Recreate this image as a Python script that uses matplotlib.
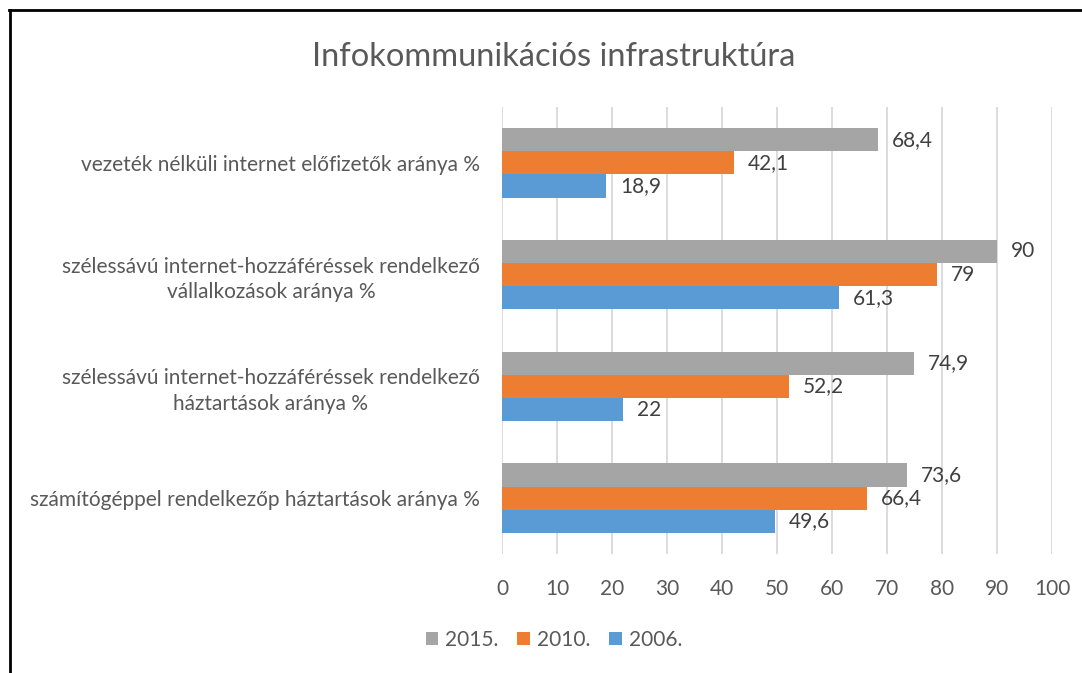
import numpy as np
import matplotlib.pyplot as plt
from matplotlib.patches import Patch
from matplotlib.lines import Line2D

# Adatok
categories = [
    "vezeték nélküli internet előfizetők aránya %",
    "szélessávú internet-hozzáféréssek rendelkező\nvállalkozások aránya %",
    "szélessávú internet-hozzáféréssek rendelkező\nháztartások aránya %",
    "számítógéppel rendelkezőp háztartások aránya %",
]
series_names = ["2015.", "2010.", "2006."]
values_2015 = [68.4, 90, 74.9, 73.6]
values_2010 = [42.1, 79, 52.2, 66.4]
values_2006 = [18.9, 61.3, 22, 49.6]
value_labels_2015 = ["68,4", "90", "74,9", "73,6"]
value_labels_2010 = ["42,1", "79", "52,2", "66,4"]
value_labels_2006 = ["18,9", "61,3", "22", "49,6"]
xticks = [0, 10, 20, 30, 40, 50, 60, 70, 80, 90, 100]

colors = ["#A5A5A5", "#ED7D31", "#5B9BD5"]
text_color = "#595959"

plt.rcParams['font.family'] = ['Lato', 'DejaVu Sans']

fig = plt.figure(figsize=(10.82, 6.73), dpi=100)
W, H = 1082, 673
ax = fig.add_axes([502 / W, 1 - 554 / H, 550 / W, 447 / H])

y = np.arange(len(categories))
h = 0.207
all_values = [values_2015, values_2010, values_2006]
all_labels = [value_labels_2015, value_labels_2010, value_labels_2006]
for i in range(3):
    pos = y + (i - 1) * h
    ax.barh(pos, all_values[i], height=h, color=colors[i], zorder=3)
    for p, v, lab in zip(pos, all_values[i], all_labels[i]):
        ax.annotate(lab, (v, p), xytext=(10, 0), textcoords='offset points',
                    va='center', ha='left', fontsize=15, color="#404040")

ax.set_xlim(0, 100)
ax.set_ylim(3.5, -0.5)
ax.set_xticks(xticks)
ax.set_xticklabels([str(t) for t in xticks], fontsize=15, color=text_color)
ax.set_yticks(y)
ax.set_yticklabels(categories, fontsize=15, color=text_color,
                   multialignment='center', linespacing=1.35)
ax.tick_params(axis='both', length=0)
ax.tick_params(axis='y', pad=16)
ax.tick_params(axis='x', pad=18)
ax.grid(axis='x', color="#D9D9D9", linewidth=1.3, zorder=0)
for s in ax.spines.values():
    s.set_visible(False)

fig.text(554 / W, 1 - 57 / H, "Infokommunikációs infrastruktúra",
         ha='center', va='center', fontsize=23.5, color=text_color)

handles = [Patch(facecolor=c, edgecolor='none') for c in colors]
leg = fig.legend(handles, series_names, loc='center', ncol=3,
                 bbox_to_anchor=(554 / W, 1 - 640 / H), frameon=False,
                 fontsize=15, handlelength=0.6, handleheight=0.6,
                 handletextpad=0.35, columnspacing=0.9)
for t in leg.get_texts():
    t.set_color(text_color)

# Keret (bal és felső vonal)
fig.add_artist(Line2D([10 / W, 10 / W], [0, 1 - 10 / H], color='black',
                      linewidth=2, transform=fig.transFigure))
fig.add_artist(Line2D([9 / W, 1], [1 - 10 / H, 1 - 10 / H], color='black',
                      linewidth=2, transform=fig.transFigure))

fig.savefig("out.png", dpi=100)
